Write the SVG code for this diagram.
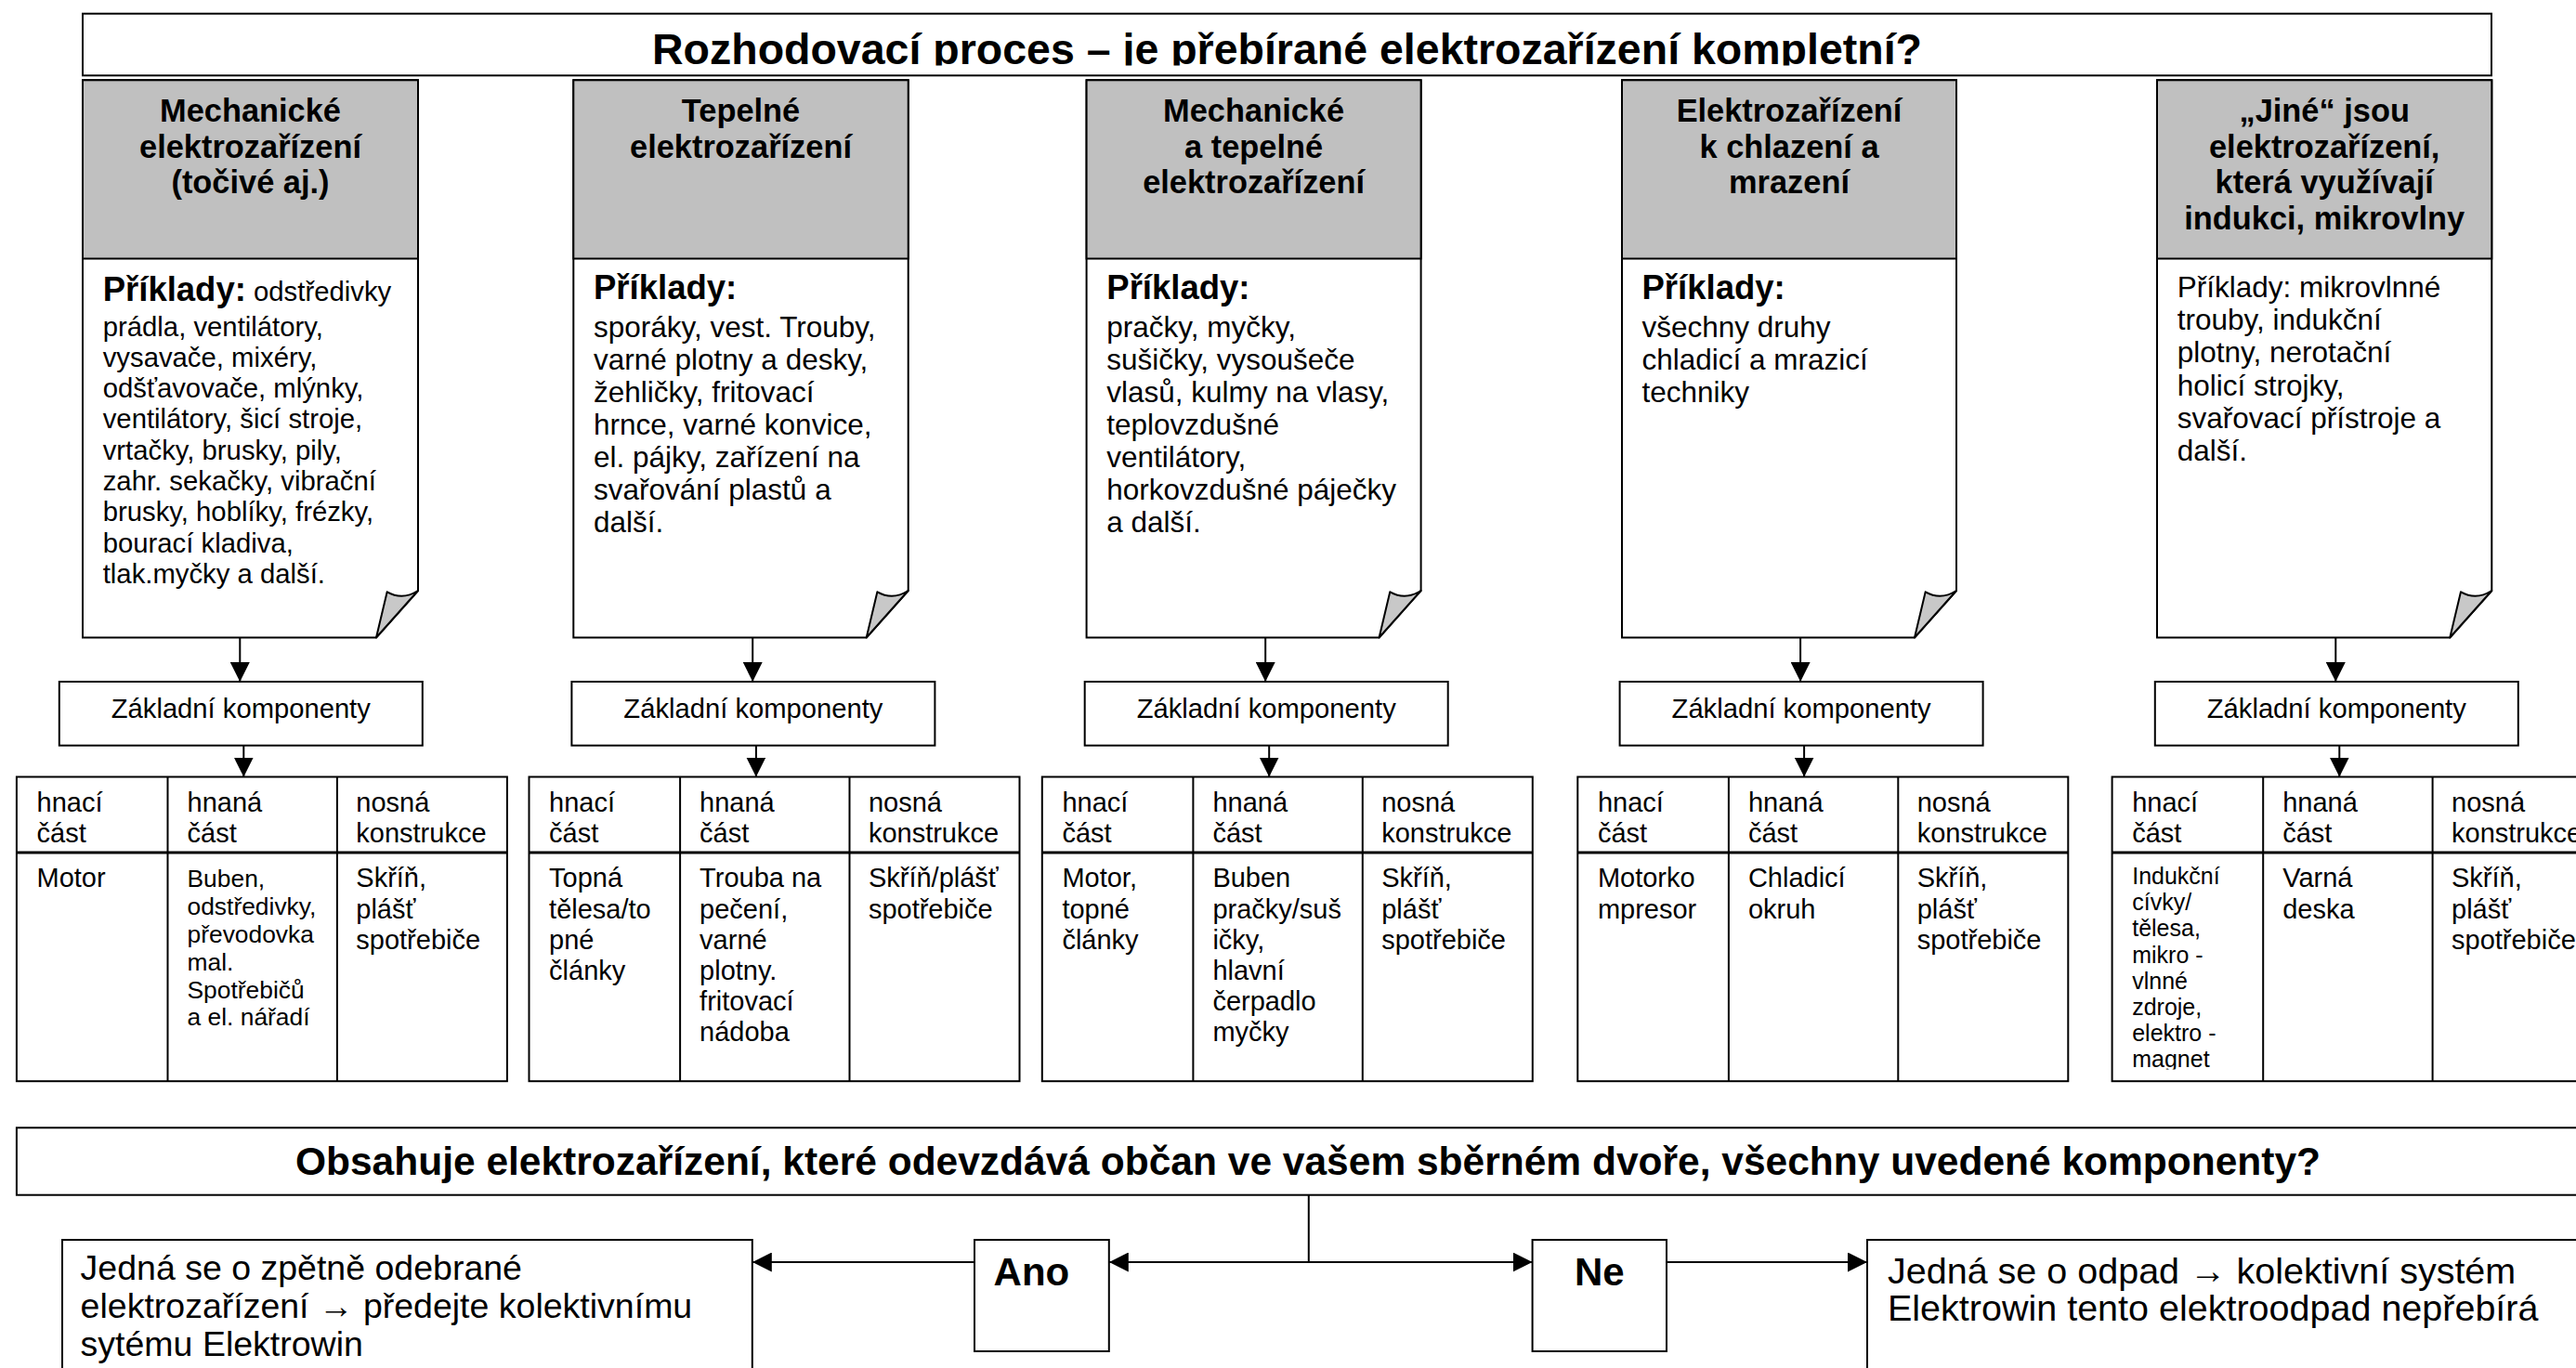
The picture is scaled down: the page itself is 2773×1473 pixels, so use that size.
<svg xmlns="http://www.w3.org/2000/svg" width="2773" height="1473" viewBox="0 0 2773 1473">
<defs>
<style>
.ln{stroke:#000;stroke-width:2;fill:none}
.bx{stroke:#000;stroke-width:2;fill:#fff}
.hd{fill:#c0c0c0;stroke:#000;stroke-width:2}
.fold{fill:#c8c8c8;stroke:#000;stroke-width:2;stroke-linejoin:round}
.sep{stroke:#000;stroke-width:3;fill:none}
text{font-family:"Liberation Sans",Arial,Helvetica,sans-serif;fill:#000}
.ht{font-weight:bold;font-size:34.4px;text-anchor:middle}
.pk{font-weight:bold;font-size:36.5px}
.bt{font-size:31.5px}
.bt1{font-size:29.3px}
.ct{font-size:29.2px;text-anchor:middle}
.tt{font-size:29px}
.ts{font-size:26.4px}
.tx{font-size:25px}
.big{font-weight:bold;font-size:46.5px;text-anchor:middle}
.q{font-weight:bold;font-size:42.5px;text-anchor:middle}
.an{font-weight:bold;font-size:42px}
.rt{font-size:37.5px}
.rt2{font-size:39.5px}
.conn{stroke:#000;stroke-width:2;fill:none;marker-end:url(#ah)}
</style>
<marker id="ah" viewBox="0 0 10 10" refX="10" refY="5" markerWidth="21" markerHeight="21" markerUnits="userSpaceOnUse" orient="auto" preserveAspectRatio="none">
<path d="M0,0 L10,5 L0,10 Z" fill="#000"/>
</marker>
<clipPath id="clipTitle"><rect x="89" y="14" width="2593" height="56.5"/></clipPath>
<clipPath id="clipT5"><rect x="2273.6" y="836.5" width="162.6" height="315"/></clipPath>
</defs>
<rect x="0" y="0" width="2773" height="1473" fill="#fff"/>

<g id="title">
<rect class="bx" x="89" y="14.7" width="2593" height="66.6"/>
<text class="big" x="1385.5" y="69" clip-path="url(#clipTitle)">Rozhodovací proces – je přebírané elektrozařízení kompletní?</text>
</g>

<g id="node-1">
<path class="bx" d="M89,86.3 H450 V636 L405,686.5 H89 Z"/>
<rect class="hd" x="89" y="86.3" width="361" height="192.2"/>
<path class="fold" d="M416.7,637.3 Q433.3,646.7 450,636 L405,686.5 Z"/>
<text class="ht" x="269.5" y="131">Mechanické</text>
<text class="ht" x="269.5" y="169.7">elektrozařízení</text>
<text class="ht" x="269.5" y="208.4">(točivé aj.)</text>
<text x="110.7" y="323.5"><tspan class="pk">Příklady:</tspan><tspan class="bt1"> odstředivky</tspan></text>
<text class="bt1" x="110.7" y="361.5">prádla, ventilátory,</text>
<text class="bt1" x="110.7" y="394.8">vysavače, mixéry,</text>
<text class="bt1" x="110.7" y="428.1">odšťavovače, mlýnky,</text>
<text class="bt1" x="110.7" y="461.4">ventilátory, šicí stroje,</text>
<text class="bt1" x="110.7" y="494.7">vrtačky, brusky, pily,</text>
<text class="bt1" x="110.7" y="528">zahr. sekačky, vibrační</text>
<text class="bt1" x="110.7" y="561.3">brusky, hoblíky, frézky,</text>
<text class="bt1" x="110.7" y="594.6">bourací kladiva,</text>
<text class="bt1" x="110.7" y="627.9">tlak.myčky a další.</text>
</g>

<g id="node-2">
<path class="bx" d="M617.3,86.3 H977.7 V636 L932.7,686.5 H617.3 Z"/>
<rect class="hd" x="617.3" y="86.3" width="360.4" height="192.2"/>
<path class="fold" d="M944.4,637.3 Q961,646.7 977.7,636 L932.7,686.5 Z"/>
<text class="ht" x="797.5" y="131">Tepelné</text>
<text class="ht" x="797.5" y="169.7">elektrozařízení</text>
<text class="pk" x="639" y="321.5">Příklady:</text>
<text class="bt" x="639" y="362.5">sporáky, vest. Trouby,</text>
<text class="bt" x="639" y="397.5">varné plotny a desky,</text>
<text class="bt" x="639" y="432.5">žehličky, fritovací</text>
<text class="bt" x="639" y="467.5">hrnce, varné konvice,</text>
<text class="bt" x="639" y="502.5">el. pájky, zařízení na</text>
<text class="bt" x="639" y="537.5">svařování plastů a</text>
<text class="bt" x="639" y="572.5">další.</text>
</g>

<g id="node-3">
<path class="bx" d="M1169.6,86.3 H1529.6 V636 L1484.6,686.5 H1169.6 Z"/>
<rect class="hd" x="1169.6" y="86.3" width="360" height="192.2"/>
<path class="fold" d="M1496.3,637.3 Q1512.9,646.7 1529.6,636 L1484.6,686.5 Z"/>
<text class="ht" x="1349.6" y="131">Mechanické</text>
<text class="ht" x="1349.6" y="169.7">a tepelné</text>
<text class="ht" x="1349.6" y="208.4">elektrozařízení</text>
<text class="pk" x="1191.3" y="321.5">Příklady:</text>
<text class="bt" x="1191.3" y="362.5">pračky, myčky,</text>
<text class="bt" x="1191.3" y="397.5">sušičky, vysoušeče</text>
<text class="bt" x="1191.3" y="432.5">vlasů, kulmy na vlasy,</text>
<text class="bt" x="1191.3" y="467.5">teplovzdušné</text>
<text class="bt" x="1191.3" y="502.5">ventilátory,</text>
<text class="bt" x="1191.3" y="537.5">horkovzdušné páječky</text>
<text class="bt" x="1191.3" y="572.5">a další.</text>
</g>

<g id="node-4">
<path class="bx" d="M1746,86.3 H2106 V636 L2061,686.5 H1746 Z"/>
<rect class="hd" x="1746" y="86.3" width="360" height="192.2"/>
<path class="fold" d="M2072.7,637.3 Q2089.3,646.7 2106,636 L2061,686.5 Z"/>
<text class="ht" x="1926" y="131">Elektrozařízení</text>
<text class="ht" x="1926" y="169.7">k chlazení a</text>
<text class="ht" x="1926" y="208.4">mrazení</text>
<text class="pk" x="1767.5" y="321.5">Příklady:</text>
<text class="bt" x="1767.5" y="362.5">všechny druhy</text>
<text class="bt" x="1767.5" y="397.5">chladicí a mrazicí</text>
<text class="bt" x="1767.5" y="432.5">techniky</text>
</g>

<g id="node-5">
<path class="bx" d="M2322,86.3 H2682.3 V636 L2637.3,686.5 H2322 Z"/>
<rect class="hd" x="2322" y="86.3" width="360.3" height="192.2"/>
<path class="fold" d="M2649,637.3 Q2665.6,646.7 2682.3,636 L2637.3,686.5 Z"/>
<text class="ht" x="2502.2" y="131">„Jiné“ jsou</text>
<text class="ht" x="2502.2" y="169.7">elektrozařízení,</text>
<text class="ht" x="2502.2" y="208.4">která využívají</text>
<text class="ht" x="2502.2" y="247.1">indukci, mikrovlny</text>
<text class="bt" x="2343.7" y="320">Příklady: mikrovlnné</text>
<text class="bt" x="2343.7" y="355.2">trouby, indukční</text>
<text class="bt" x="2343.7" y="390.4">plotny, nerotační</text>
<text class="bt" x="2343.7" y="425.6">holicí strojky,</text>
<text class="bt" x="2343.7" y="460.8">svařovací přístroje a</text>
<text class="bt" x="2343.7" y="496">další.</text>
</g>

<g id="components-1"><rect class="bx" x="63.8" y="734" width="391" height="68.7"/><text class="ct" x="259.3" y="773">Základní komponenty</text></g>
<g id="components-2"><rect class="bx" x="615.4" y="734" width="391" height="68.7"/><text class="ct" x="810.9" y="773">Základní komponenty</text></g>
<g id="components-3"><rect class="bx" x="1167.7" y="734" width="391" height="68.7"/><text class="ct" x="1363.2" y="773">Základní komponenty</text></g>
<g id="components-4"><rect class="bx" x="1743.6" y="734" width="391" height="68.7"/><text class="ct" x="1939.1" y="773">Základní komponenty</text></g>
<g id="components-5"><rect class="bx" x="2319.8" y="734" width="391" height="68.7"/><text class="ct" x="2515.3" y="773">Základní komponenty</text></g>

<g id="table-1">
<rect class="bx" x="17.9" y="836.5" width="528" height="327.7"/>
<path class="ln" d="M180.5,836.5 V1164.2 M362.9,836.5 V1164.2"/>
<path class="sep" d="M17.9,918 H545.9"/>
<text class="tt" x="39.5" y="874">hnací</text><text class="tt" x="39.5" y="907">část</text>
<text class="tt" x="201.5" y="874">hnaná</text><text class="tt" x="201.5" y="907">část</text>
<text class="tt" x="383.3" y="874">nosná</text><text class="tt" x="383.3" y="907">konstrukce</text>
<text class="tt" x="39.5" y="955.3">Motor</text>
<text class="ts" x="201.5" y="955.3">Buben,</text>
<text class="ts" x="201.5" y="985.1">odstředivky,</text>
<text class="ts" x="201.5" y="1014.9">převodovka</text>
<text class="ts" x="201.5" y="1044.7">mal.</text>
<text class="ts" x="201.5" y="1074.5">Spotřebičů</text>
<text class="ts" x="201.5" y="1104.3">a el. nářadí</text>
<text class="tt" x="383.3" y="955.3">Skříň,</text>
<text class="tt" x="383.3" y="988.5">plášť</text>
<text class="tt" x="383.3" y="1021.7">spotřebiče</text>
</g>

<g id="table-2">
<rect class="bx" x="569.5" y="836.5" width="528" height="327.7"/>
<path class="ln" d="M732.1,836.5 V1164.2 M914.5,836.5 V1164.2"/>
<path class="sep" d="M569.5,918 H1097.5"/>
<text class="tt" x="591.1" y="874">hnací</text><text class="tt" x="591.1" y="907">část</text>
<text class="tt" x="753.1" y="874">hnaná</text><text class="tt" x="753.1" y="907">část</text>
<text class="tt" x="934.9" y="874">nosná</text><text class="tt" x="934.9" y="907">konstrukce</text>
<text class="tt" x="591.1" y="955.3">Topná</text>
<text class="tt" x="591.1" y="988.5">tělesa/to</text>
<text class="tt" x="591.1" y="1021.7">pné</text>
<text class="tt" x="591.1" y="1054.9">články</text>
<text class="tt" x="753.1" y="955.3">Trouba na</text>
<text class="tt" x="753.1" y="988.5">pečení,</text>
<text class="tt" x="753.1" y="1021.7">varné</text>
<text class="tt" x="753.1" y="1054.9">plotny.</text>
<text class="tt" x="753.1" y="1088.1">fritovací</text>
<text class="tt" x="753.1" y="1121.3">nádoba</text>
<text class="tt" x="934.9" y="955.3">Skříň/plášť</text>
<text class="tt" x="934.9" y="988.5">spotřebiče</text>
</g>

<g id="table-3">
<rect class="bx" x="1121.8" y="836.5" width="528" height="327.7"/>
<path class="ln" d="M1284.4,836.5 V1164.2 M1466.8,836.5 V1164.2"/>
<path class="sep" d="M1121.8,918 H1649.8"/>
<text class="tt" x="1143.4" y="874">hnací</text><text class="tt" x="1143.4" y="907">část</text>
<text class="tt" x="1305.4" y="874">hnaná</text><text class="tt" x="1305.4" y="907">část</text>
<text class="tt" x="1487.2" y="874">nosná</text><text class="tt" x="1487.2" y="907">konstrukce</text>
<text class="tt" x="1143.4" y="955.3">Motor,</text>
<text class="tt" x="1143.4" y="988.5">topné</text>
<text class="tt" x="1143.4" y="1021.7">články</text>
<text class="tt" x="1305.4" y="955.3">Buben</text>
<text class="tt" x="1305.4" y="988.5">pračky/suš</text>
<text class="tt" x="1305.4" y="1021.7">ičky,</text>
<text class="tt" x="1305.4" y="1054.9">hlavní</text>
<text class="tt" x="1305.4" y="1088.1">čerpadlo</text>
<text class="tt" x="1305.4" y="1121.3">myčky</text>
<text class="tt" x="1487.2" y="955.3">Skříň,</text>
<text class="tt" x="1487.2" y="988.5">plášť</text>
<text class="tt" x="1487.2" y="1021.7">spotřebiče</text>
</g>

<g id="table-4">
<rect class="bx" x="1698.3" y="836.5" width="528" height="327.7"/>
<path class="ln" d="M1860.9,836.5 V1164.2 M2043.3,836.5 V1164.2"/>
<path class="sep" d="M1698.3,918 H2226.3"/>
<text class="tt" x="1719.9" y="874">hnací</text><text class="tt" x="1719.9" y="907">část</text>
<text class="tt" x="1881.9" y="874">hnaná</text><text class="tt" x="1881.9" y="907">část</text>
<text class="tt" x="2063.7" y="874">nosná</text><text class="tt" x="2063.7" y="907">konstrukce</text>
<text class="tt" x="1719.9" y="955.3">Motorko</text>
<text class="tt" x="1719.9" y="988.5">mpresor</text>
<text class="tt" x="1881.9" y="955.3">Chladicí</text>
<text class="tt" x="1881.9" y="988.5">okruh</text>
<text class="tt" x="2063.7" y="955.3">Skříň,</text>
<text class="tt" x="2063.7" y="988.5">plášť</text>
<text class="tt" x="2063.7" y="1021.7">spotřebiče</text>
</g>

<g id="table-5">
<rect class="bx" x="2273.6" y="836.5" width="528" height="327.7"/>
<path class="ln" d="M2436.2,836.5 V1164.2 M2618.6,836.5 V1164.2"/>
<path class="sep" d="M2273.6,918 H2801.6"/>
<text class="tt" x="2295.2" y="874">hnací</text><text class="tt" x="2295.2" y="907">část</text>
<text class="tt" x="2457.2" y="874">hnaná</text><text class="tt" x="2457.2" y="907">část</text>
<text class="tt" x="2639" y="874">nosná</text><text class="tt" x="2639" y="907">konstrukce</text>
<g clip-path="url(#clipT5)">
<text class="tx" x="2295.2" y="952">Indukční</text>
<text class="tx" x="2295.2" y="980.2">cívky/</text>
<text class="tx" x="2295.2" y="1008.4">tělesa,</text>
<text class="tx" x="2295.2" y="1036.6">mikro -</text>
<text class="tx" x="2295.2" y="1064.8">vlnné</text>
<text class="tx" x="2295.2" y="1093">zdroje,</text>
<text class="tx" x="2295.2" y="1121.2">elektro -</text>
<text class="tx" x="2295.2" y="1149.4">magnet</text>
</g>
<text class="tt" x="2457.2" y="955.3">Varná</text>
<text class="tt" x="2457.2" y="988.5">deska</text>
<text class="tt" x="2639" y="955.3">Skříň,</text>
<text class="tt" x="2639" y="988.5">plášť</text>
<text class="tt" x="2639" y="1021.7">spotřebiče</text>
</g>

<g id="question">
<rect class="bx" x="17.9" y="1214.3" width="2800" height="72.4" stroke-width="2.5"/>
<text class="q" x="1408" y="1265">Obsahuje elektrozařízení, které odevzdává občan ve vašem sběrném dvoře, všechny uvedené komponenty?</text>
</g>

<g id="result-yes">
<rect class="bx" x="67" y="1335" width="742.8" height="200"/>
<text class="rt" x="86.6" y="1378">Jedná se o zpětně odebrané</text>
<text class="rt" x="86.6" y="1419">elektrozařízení → předejte kolektivnímu</text>
<text class="rt" x="86.6" y="1460">sytému Elektrowin</text>
</g>

<g id="ano">
<rect class="bx" x="1049" y="1335" width="144.8" height="120"/>
<text class="an" x="1069.6" y="1384">Ano</text>
</g>

<g id="ne">
<rect class="bx" x="1649.6" y="1335" width="144.4" height="120"/>
<text class="an" x="1721.8" y="1384" text-anchor="middle">Ne</text>
</g>

<g id="result-no">
<rect class="bx" x="2010" y="1335" width="900" height="200"/>
<text class="rt2" x="2032" y="1381.5">Jedná se o odpad → kolektivní systém</text>
<text class="rt2" x="2032" y="1421.5">Elektrowin tento elektroodpad nepřebírá</text>
</g>

<g id="connectors">
<path class="conn" d="M258.3,686.5 V734"/>
<path class="conn" d="M810.2,686.5 V734"/>
<path class="conn" d="M1362.2,686.5 V734"/>
<path class="conn" d="M1938.1,686.5 V734"/>
<path class="conn" d="M2514.3,686.5 V734"/>
<path class="conn" d="M262.3,802.7 V836.5"/>
<path class="conn" d="M813.9,802.7 V836.5"/>
<path class="conn" d="M1366.2,802.7 V836.5"/>
<path class="conn" d="M1942.1,802.7 V836.5"/>
<path class="conn" d="M2518.3,802.7 V836.5"/>
<path class="conn" d="M1408.8,1286.7 V1359 H1193.8"/>
<path class="conn" d="M1408.8,1359 H1649.6"/>
<path class="conn" d="M1049,1359 H809.8"/>
<path class="conn" d="M1794,1359 H2010"/>
</g>
</svg>
